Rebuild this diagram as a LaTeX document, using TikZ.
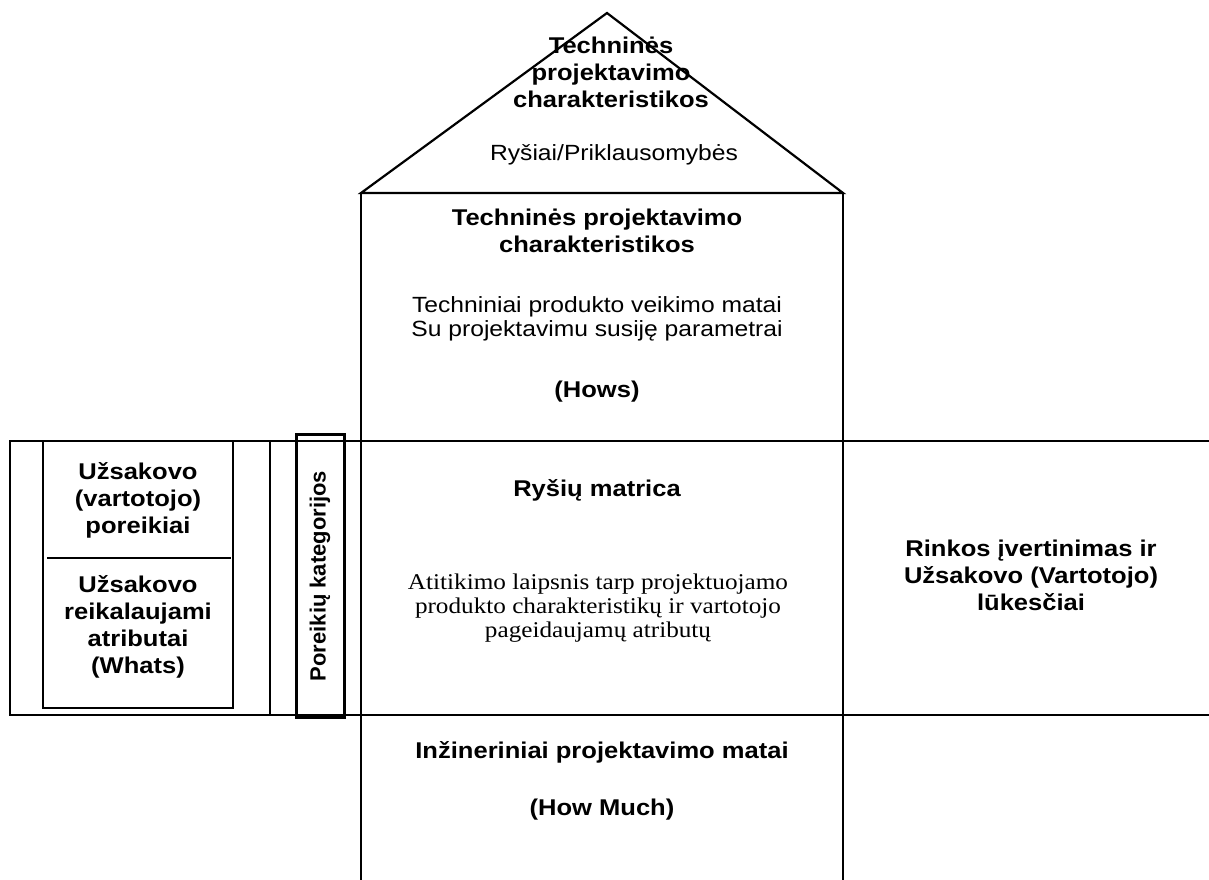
\documentclass[tikz,border=0pt]{standalone}
\usepackage{fontspec}
\setmainfont{Liberation Sans}[FakeStretch=1.12]
\newfontfamily\serifwide{Liberation Serif}[FakeStretch=1.12]
\newfontfamily\sansplain{Liberation Sans}
\begin{document}
\begin{tikzpicture}[x=1pt,y=-1pt,
  frame/.style={line width=2.2pt, line cap=rect},
  heavy/.style={line width=3pt},
  headtext/.style={align=center, inner sep=0pt, font=\bfseries\fontsize{22.8}{27}\selectfont},
  bodytext/.style={align=center, inner sep=0pt, font=\fontsize{22}{24}\selectfont},
  serifbody/.style={align=center, inner sep=0pt, font=\serifwide\fontsize{22.5}{24}\selectfont},
  sidetext/.style={inner sep=0pt, font=\sansplain\bfseries\fontsize{22}{24}\selectfont}]
\useasboundingbox (0,0) rectangle (1209,880);
\fill[white] (0,0) rectangle (1209,880);

% roof
\coordinate (apex) at (607,13);
\coordinate (roofL) at (361,193);
\coordinate (roofR) at (843,193);
\draw[frame, line join=miter] (roofL) -- (apex) -- (roofR) -- cycle;

% main column
\coordinate (colBL) at (361,880);
\coordinate (colBR) at (843,880);
\draw[frame] (roofL) -- (colBL);
\draw[frame] (roofR) -- (colBR);

% horizontal bands across the whole width
\coordinate (bandTL) at (10,441);
\coordinate (bandTR) at (1209,441);
\coordinate (bandBL) at (10,715);
\coordinate (bandBR) at (1209,715);
\draw[frame] (bandTL) -- (bandTR);
\draw[frame] (bandBL) -- (bandBR);

% left block
\draw[frame] (bandTL) -- (bandBL);
\coordinate (sepT) at (270,441);
\coordinate (sepB) at (270,715);
\draw[frame] (sepT) -- (sepB);
\coordinate (innerTL) at (43,441);
\coordinate (innerBR) at (233,708);
\draw[frame] (innerTL) rectangle (innerBR);
\coordinate (divL) at (48,558);
\coordinate (divR) at (230,558);
\draw[frame] (divL) -- (divR);

% category strip
\coordinate (catTL) at (296,434);
\coordinate (catBR) at (344,717);
\draw[heavy] (catTL) rectangle (catBR);

% roof texts
\node[headtext] (roofTitle) at (611,72) {Techninės\\projektavimo\\charakteristikos};
\node[bodytext] (roofRel) at (614,155) {Ryšiai/Priklausomybės};

% hows block
\node[headtext] (howsTitle) at (597,231) {Techninės projektavimo\\charakteristikos};
\node[bodytext] (howsBody) at (597,319) {Techniniai produkto veikimo matai\\Su projektavimu susiję parametrai};
\node[headtext] (hows) at (597,392) {(Hows)};

% relationship matrix
\node[headtext] (matrix) at (597,490) {Ryšių matrica};
\node[serifbody] (matrixBody) at (598,608) {Atitikimo laipsnis tarp projektuojamo\\produkto charakteristikų ir vartotojo\\pageidaujamų atributų};

% left texts
\node[headtext] (needs) at (138,500) {Užsakovo\\(vartotojo)\\poreikiai};
\node[headtext] (whats) at (138,627) {Užsakovo\\reikalaujami\\atributai\\(Whats)};
\node[sidetext, rotate=90] (cat) at (320,576) {Poreikių kategorijos};

% right text
\node[headtext] (market) at (1031,575) {Rinkos įvertinimas ir\\Užsakovo (Vartotojo)\\lūkesčiai};

% bottom
\node[headtext] (eng) at (602,752) {Inžineriniai projektavimo matai};
\node[headtext] (howmuch) at (602,810) {(How Much)};
\end{tikzpicture}
\end{document}
